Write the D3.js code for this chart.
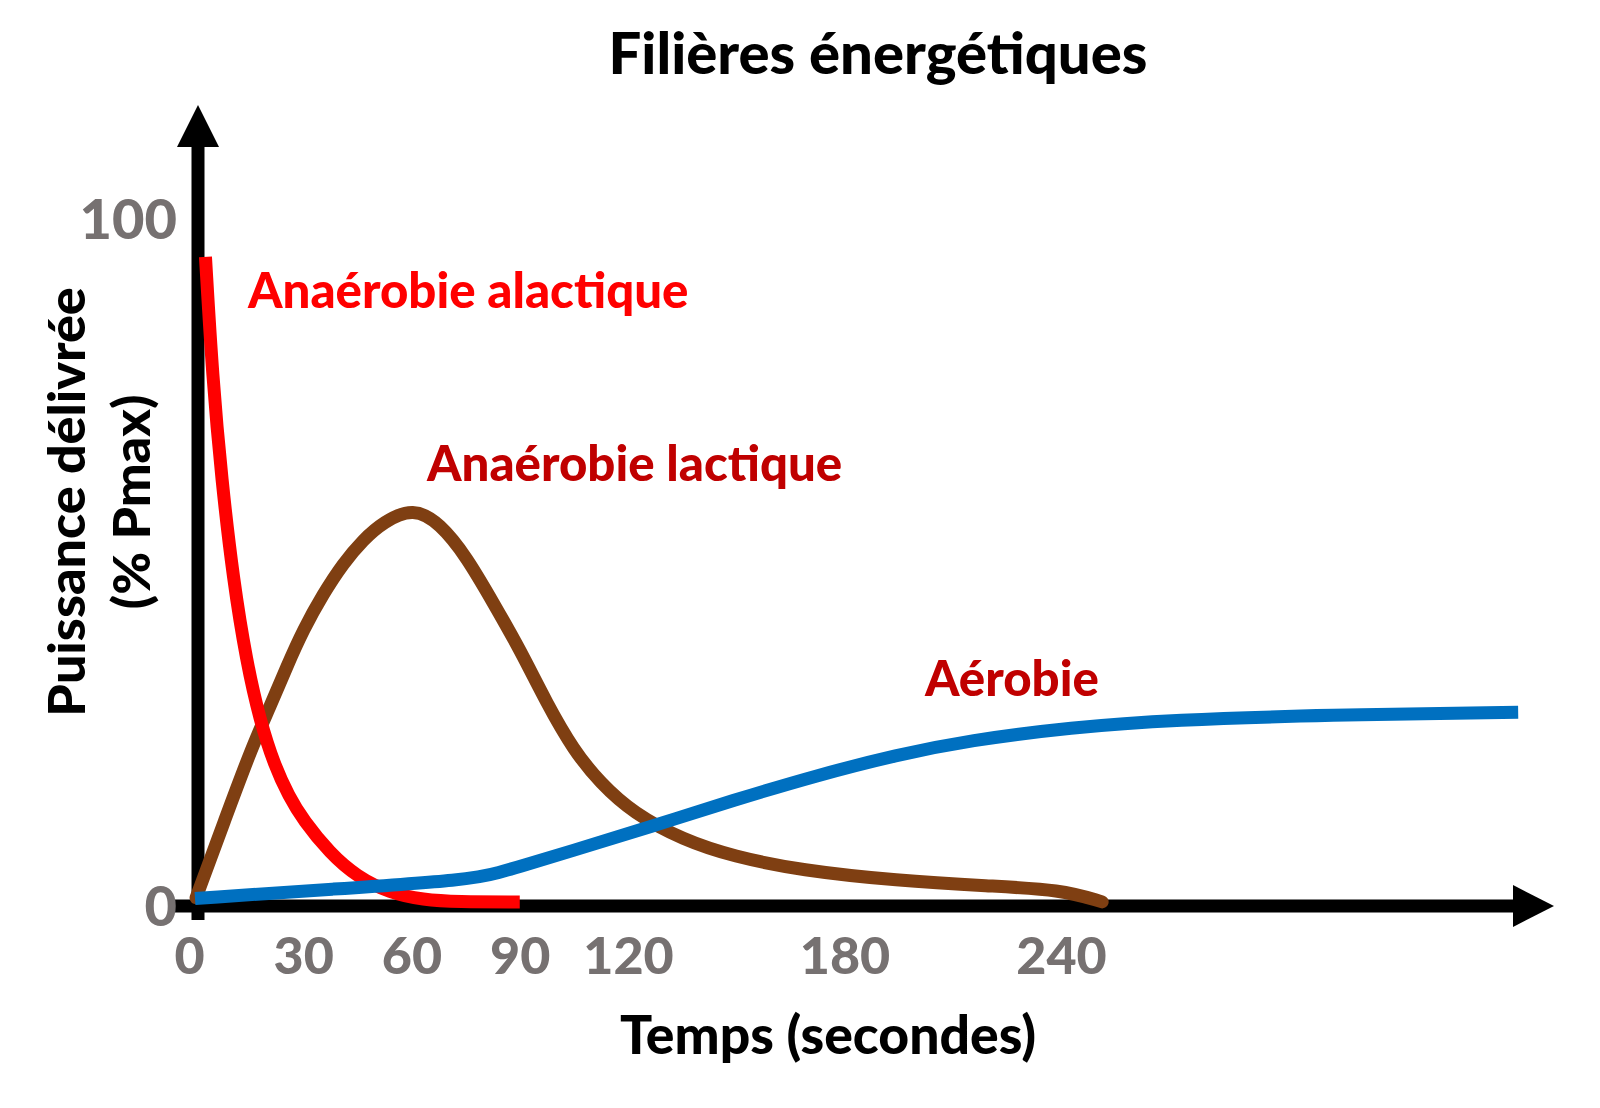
<!DOCTYPE html>
<html>
<head>
<meta charset="utf-8">
<script src="https://cdn.jsdelivr.net/npm/d3@7"></script>
<style>
  body { margin: 0; background: #fff; }
  svg text { font-family: Lato, "Open Sans", sans-serif; font-weight: 900; }
</style>
</head>
<body>
<div class="vis"></div>
<script>
// tick labels
const xTicks = [0, 30, 60, 90, 120, 180, 240];
const yTicks = [0, 100];

// Anaérobie alactique (seconds, % Pmax)
const alactT = [2.9, 4.85, 7.4, 10.6, 14.3, 18, 22, 26, 30, 37.4, 44.8, 54, 63.3, 72.5, 90];
const alactV = [94.5, 77, 62, 47.5, 35.5, 27, 20.5, 16, 12.5, 7.7, 4.3, 1.9, 0.9, 0.6, 0.6];

// Anaérobie lactique
const lactT = [0.3, 8.3, 16.2, 20.8, 25.4, 30, 35.6, 41.1, 46.6, 52.2, 60.5, 67.9, 75.3, 82.7, 90.1, 97.5, 104.9, 112.3, 121.5, 135.3, 149.2, 167.8, 194.5, 220, 240, 251.4];
const lactV = [1.2, 12.6, 23.7, 29, 34.8, 40.2, 45.5, 49.9, 53.3, 55.9, 58, 55.7, 50.8, 44.1, 37.3, 29.5, 22.7, 17.9, 13.5, 9.6, 7.2, 5.2, 3.7, 2.9, 2.4, 0.6];

// Aérobie
const aeroT = [0, 38, 76.2, 84.5, 90.9, 103, 126.1, 149.2, 172.2, 194.5, 214.5, 242.8, 271, 313.7, 366.7];
const aeroV = [1.1, 2.45, 3.8, 4.9, 5.9, 7.8, 11.5, 15.4, 19, 22, 24.1, 26, 27.1, 27.8, 28.2];

const seriesNames = ['Anaérobie alactique', 'Anaérobie lactique', 'Aérobie'];
// label anchor in data units (seconds, % Pmax)
const labelT = [14.7, 64.3, 202.3];
const labelV = [87, 61.8, 30.6];

const width = 1600, height = 1108;
const svg = d3.select('.vis').append('svg').attr('width', width).attr('height', height);

const xScale = d3.scaleLinear().domain([0, 240]).range([195, 1061]);
const yScale = d3.scaleLinear().domain([0, 100]).range([906, 219]);

const grey = '#767171';
const colors = ['#ff0000', '#7f3f12', '#0070c0'];
const labelColors = ['#ff0000', '#c00000', '#c00000'];

// title
svg.append('text')
    .attr('x', 878).attr('y', 74)
    .attr('text-anchor', 'middle')
    .style('font-size', '58px')
    .text('Filières énergétiques');

// axes lines + arrows
const x0 = xScale(0) + 3, y0 = yScale(0);
svg.append('line')
    .attr('x1', x0).attr('x2', x0)
    .attr('y1', y0 + 14).attr('y2', 145)
    .attr('stroke', 'black').attr('stroke-width', 13);
svg.append('path')
    .attr('d', `M${x0},105 L${x0 + 21},147 L${x0 - 21},147 Z`)
    .attr('fill', 'black');

svg.append('line')
    .attr('x1', 171).attr('x2', 1515)
    .attr('y1', y0).attr('y2', y0)
    .attr('stroke', 'black').attr('stroke-width', 13);
svg.append('path')
    .attr('d', `M1554,${y0} L1513,${y0 - 21} L1513,${y0 + 21} Z`)
    .attr('fill', 'black');

// tick labels via d3 axes
const xAxisG = svg.append('g')
    .attr('transform', `translate(0,${y0 + 31})`)
    .call(d3.axisBottom(xScale).tickValues(xTicks).tickSize(0).tickPadding(0).tickFormat(d3.format('d')));
xAxisG.select('.domain').remove();
xAxisG.selectAll('text')
    .attr('dy', '0.71em')
    .attr('dx', d => d === 0 ? -6 : 0)
    .attr('fill', grey)
    .style('font-family', 'Lato, sans-serif')
    .style('font-weight', 900)
    .style('font-size', '52px');

const yAxisG = svg.append('g')
    .attr('transform', `translate(177,0)`)
    .call(d3.axisLeft(yScale).tickValues(yTicks).tickSize(0).tickPadding(0).tickFormat(d3.format('d')));
yAxisG.select('.domain').remove();
yAxisG.selectAll('text')
    .attr('dy', '0.34em')
    .attr('fill', grey)
    .style('font-family', 'Lato, sans-serif')
    .style('font-weight', 900)
    .style('font-size', '56px');

// axis titles
svg.append('text')
    .attr('x', 828).attr('y', 1054)
    .attr('text-anchor', 'middle')
    .style('font-size', '53.5px')
    .text('Temps (secondes)');

const yLab = svg.append('text')
    .attr('transform', 'translate(0,502) rotate(-90)')
    .attr('text-anchor', 'middle')
    .style('font-size', '52px');
yLab.append('tspan').attr('x', 0).attr('y', 85).text('Puissance délivrée');
yLab.append('tspan').attr('x', 0).attr('y', 150).text('(% Pmax)');

// curves
const line = d3.line()
    .x(d => xScale(d[0]))
    .y(d => yScale(d[1]))
    .curve(d3.curveBasis);

const series = [
    { name: seriesNames[1], pts: d3.zip(lactT, lactV), color: colors[1], cap: 'round' },
    { name: seriesNames[0], pts: d3.zip(alactT, alactV), color: colors[0], cap: 'butt' },
    { name: seriesNames[2], pts: d3.zip(aeroT, aeroV), color: colors[2], cap: 'butt' }
];

svg.append('g').selectAll('path')
    .data(series)
    .enter().append('path')
    .attr('d', d => line(d.pts))
    .attr('fill', 'none')
    .attr('stroke', d => d.color)
    .attr('stroke-width', 13)
    .attr('stroke-linecap', d => d.cap)
    .attr('stroke-linejoin', 'round');

// series labels
svg.append('g').selectAll('text')
    .data(seriesNames)
    .enter().append('text')
    .attr('x', (d, i) => xScale(labelT[i]))
    .attr('y', (d, i) => yScale(labelV[i]))
    .attr('fill', (d, i) => labelColors[i])
    .style('font-size', '49.2px')
    .text(d => d);
</script>
</body>
</html>
